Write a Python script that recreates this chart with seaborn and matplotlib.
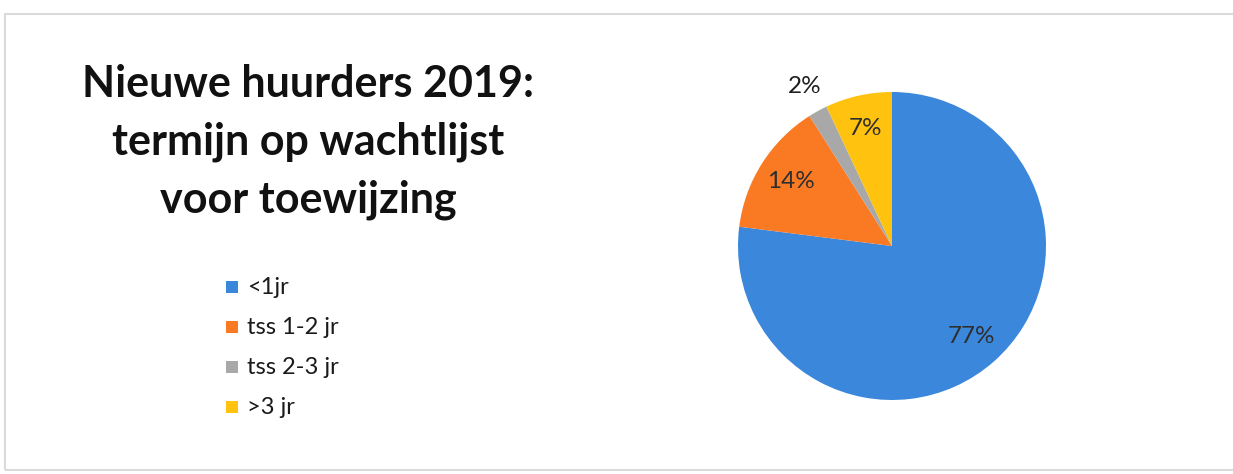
import matplotlib
matplotlib.use("Agg")
import matplotlib.pyplot as plt
import numpy as np
import pandas as pd
import seaborn as sns
from matplotlib.patches import Rectangle

categories = ["<1jr", "tss 1-2 jr", "tss 2-3 jr", ">3 jr"]
shares = [77, 14, 2, 7]
colors = ["#3b87dc", "#f97a23", "#a8a8a8", "#ffc20e"]
title_lines = ["Nieuwe huurders 2019:", "termijn op wachtlijst", "voor toewijzing"]

df = pd.DataFrame({"categorie": categories, "aandeel": shares})

sns.set_theme(style="white")
plt.rcParams["font.family"] = ["Lato", "DejaVu Sans"]

W, H = 1233, 474
fig = plt.figure(figsize=(W / 100, H / 100), dpi=100)
fig.patch.set_facecolor("white")

# faint frame around the chart area (right edge runs off the page)
fig.add_artist(Rectangle((5 / W, 4 / H), 1240 / W, 456 / H, transform=fig.transFigure,
                         fill=False, edgecolor="#dadada", linewidth=1.5))

# pie
cx, cy, r = 892, 246, 154
ax = fig.add_axes([(cx - r) / W, (H - cy - r) / H, 2 * r / W, 2 * r / H])
wedges, _ = ax.pie(df["aandeel"], colors=colors, startangle=90, counterclock=False,
                   radius=1, wedgeprops=dict(linewidth=0))
ax.set_xlim(-1, 1)
ax.set_ylim(-1, 1)
ax.set_aspect("equal")
ax.axis("off")

for w, v in zip(wedges, df["aandeel"]):
    ang = np.deg2rad((w.theta1 + w.theta2) / 2)
    dist = 1.18 if v < 5 else 0.78
    ax.text(dist * np.cos(ang), dist * np.sin(ang), f"{v}%", ha="center", va="center",
            fontsize=17.5, color="#2e2e2e" if v >= 5 else "#1e1e1e", clip_on=False)

# title
for i, line in enumerate(title_lines):
    fig.text(308 / W, 1 - (84 + i * 58) / H, line, ha="center", va="center",
             fontsize=31, fontweight="bold", color="#111111")

# legend
for i, (lab, col) in enumerate(zip(categories, colors)):
    y = 287 + i * 40
    fig.add_artist(Rectangle((226 / W, 1 - (y + 6) / H), 12 / W, 12 / H,
                             transform=fig.transFigure, facecolor=col, edgecolor="none"))
    fig.text(247 / W, 1 - y / H, lab, ha="left", va="center", fontsize=17, color="#1a1a1a")

fig.savefig("out.png", dpi=100, facecolor="white")
